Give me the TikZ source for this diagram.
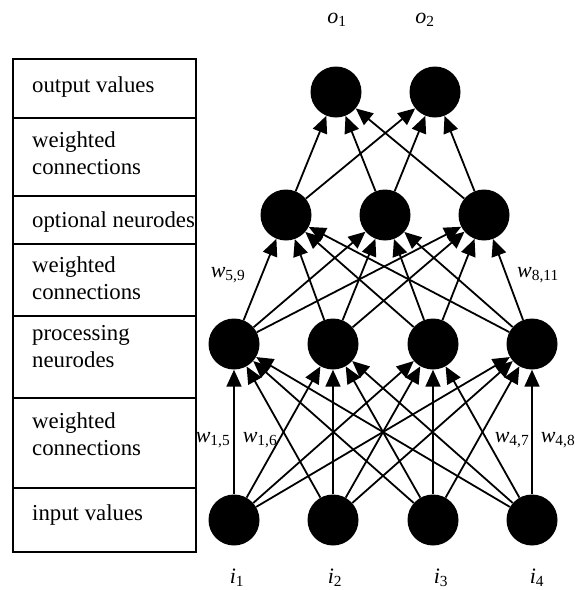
\documentclass[tikz,border=0pt]{standalone}
\usepackage{fontspec}
\setmainfont{Liberation Serif}
\usetikzlibrary{arrows.meta}
\begin{document}
\begin{tikzpicture}[x=1pt,y=-1pt,
  neuron/.style={circle,fill=black,minimum size=51pt,inner sep=0pt},
  conn/.style={-{Triangle[length=17pt,width=15pt]},line width=1.8pt},
  layerbox/.style={draw,line width=1.6pt},
  layertext/.style={anchor=north west,align=left,inner sep=0pt,
    font=\fontsize{22.8}{27}\selectfont},
  varlabel/.style={inner sep=0pt,font=\fontsize{22}{26}\selectfont}]
\useasboundingbox (0,0) rectangle (574,590);

% layer legend on the left
\draw[layerbox] (13,59) rectangle (196,118);
\draw[layerbox] (13,118) rectangle (196,196);
\draw[layerbox] (13,196) rectangle (196,244);
\draw[layerbox] (13,244) rectangle (196,316);
\draw[layerbox] (13,316) rectangle (196,398);
\draw[layerbox] (13,398) rectangle (196,488);
\draw[layerbox] (13,488) rectangle (196,552);
\node[layertext] (t1) at (32,76.6) {output values};
\node[layertext] (t2) at (32,131.6) {weighted\\connections};
\node[layertext] (t3) at (32,211.6) {optional neurodes};
\node[layertext] (t4) at (32,256.6) {weighted\\connections};
\node[layertext] (t5) at (32,325.6) {processing\\neurodes};
\node[layertext] (t6) at (32,412.6) {weighted\\connections};
\node[layertext] (t7) at (32,504.6) {input values};

% neurodes
\node[neuron] (o1) at (336,92) {};
\node[neuron] (o2) at (435,92) {};
\node[neuron] (h1) at (286,215) {};
\node[neuron] (h2) at (385,215) {};
\node[neuron] (h3) at (484,215) {};
\node[neuron] (p1) at (234,344) {};
\node[neuron] (p2) at (333,344) {};
\node[neuron] (p3) at (433,344) {};
\node[neuron] (p4) at (532,344) {};
\node[neuron] (i1) at (234,520) {};
\node[neuron] (i2) at (333,520) {};
\node[neuron] (i3) at (433,520) {};
\node[neuron] (i4) at (532,520) {};

% weighted connections between consecutive layers
\foreach \a in {1,...,4}
  \foreach \b in {1,...,4}
    \draw[conn] (i\a) -- (p\b);
\foreach \a in {1,...,4}
  \foreach \b in {1,...,3}
    \draw[conn] (p\a) -- (h\b);
\foreach \a in {1,...,3}
  \foreach \b in {1,2}
    \draw[conn] (h\a) -- (o\b);

% value and weight labels
\node[varlabel] (lo1) at (337,20) {\textit{o}\textsubscript{1}};
\node[varlabel] (lo2) at (425,20) {\textit{o}\textsubscript{2}};
\node[varlabel] (li1) at (237,578) {\textit{i}\textsubscript{1}};
\node[varlabel] (li2) at (335,578) {\textit{i}\textsubscript{2}};
\node[varlabel] (li3) at (441,578) {\textit{i}\textsubscript{3}};
\node[varlabel] (li4) at (537,578) {\textit{i}\textsubscript{4}};
\node[varlabel] (w15) at (213,440) {\textit{w}\textsubscript{1,5}};
\node[varlabel] (w16) at (260,440) {\textit{w}\textsubscript{1,6}};
\node[varlabel] (w47) at (512,440) {\textit{w}\textsubscript{4,7}};
\node[varlabel] (w48) at (558,440) {\textit{w}\textsubscript{4,8}};
\node[varlabel] (w59) at (228,275) {\textit{w}\textsubscript{5,9}};
\node[varlabel] (w811) at (538,275) {\textit{w}\textsubscript{8,11}};
\end{tikzpicture}
\end{document}
